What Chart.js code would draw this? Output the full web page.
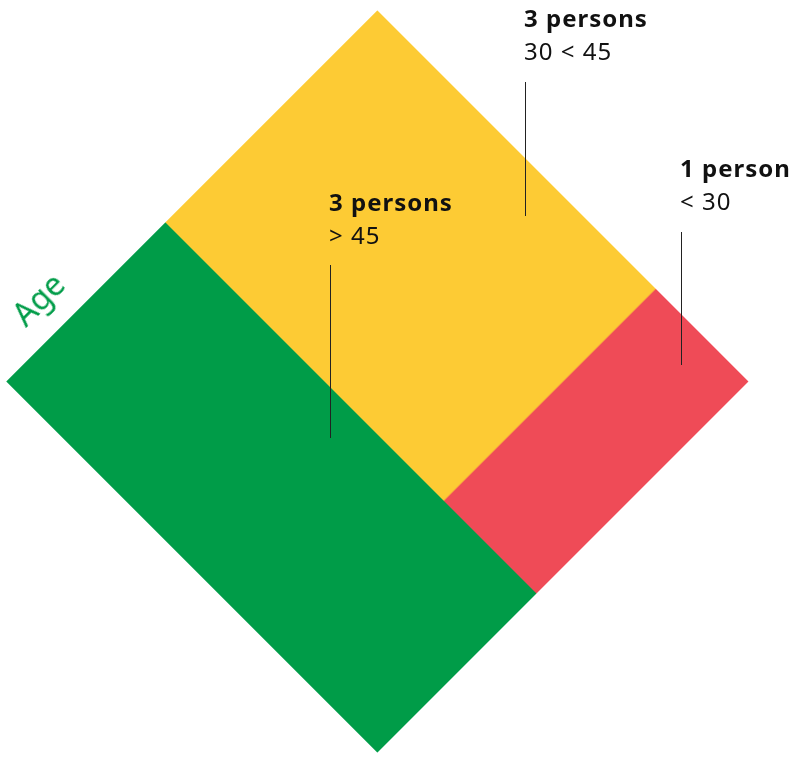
<!DOCTYPE html>
<html lang="en">
<head>
    <meta charset="UTF-8">
    <title>Persons by age</title>
    <script src="https://cdn.jsdelivr.net/npm/chart.js"></script>
    <style>
        body {
            margin: 0;
            padding: 0;
            background: #fff;
            font-family: "Noto Sans", "Open Sans", sans-serif;
        }

        #stage {
            position: relative;
            width: 797px;
            height: 757px;
            overflow: hidden;
        }

        /* 525 = 7 * 75 so the strip border lands on a whole pixel */
        #square {
            position: absolute;
            left: 115px;
            top: 119px;
            width: 525px;
            height: 525px;
            transform: rotate(-45deg);
            transform-origin: center center;
        }

        .label {
            position: absolute;
            color: #111;
            font-size: 24px;
            line-height: 33px;
            letter-spacing: 1px;
            white-space: nowrap;
        }

        .label b {
            display: block;
            font-weight: 700;
        }

        .leader {
            position: absolute;
            width: 1px;
            background: #222;
        }

        #axisLabel {
            position: absolute;
            left: 9px;
            top: 277px;
            color: #009c48;
            font-size: 32px;
            line-height: 44px;
            transform: rotate(-45deg);
            transform-origin: center center;
        }
    </style>
</head>
<body>
    <div id="stage">
        <div id="square"><canvas id="chart" width="525" height="525"></canvas></div>

        <div id="axisLabel">Age</div>

        <div class="label" style="left:524px; top:1px;"><b>3 persons</b>30 &lt; 45</div>
        <div class="leader" style="left:525px; top:82px; height:134px;"></div>

        <div class="label" style="left:680px; top:151px;"><b>1 person</b>&lt; 30</div>
        <div class="leader" style="left:681px; top:232px; height:133px;"></div>

        <div class="label" style="left:329px; top:185px;"><b>3 persons</b>&gt; 45</div>
        <div class="leader" style="left:330px; top:265px; height:173px;"></div>
    </div>

    <script>
        // age groups and number of persons in each
        const ageGroups = ['> 45', '30 < 45', '< 30'];
        const persons = [3, 3, 1];
        const groupColors = ['#009c48', '#fdcb34', '#ef4b57'];

        const total = persons.reduce((a, b) => a + b, 0);
        const splitX = persons[0];                       // first group takes a full-height strip
        const restTotal = persons[1] + persons[2];
        const redTop = persons[2] / restTotal;          // youngest group sits at the bottom of the rest

        function rect(x0, x1, yTop) {
            return [{ x: x0, y: yTop }, { x: x1, y: yTop }];
        }

        const baseSet = {
            fill: 'origin',
            borderWidth: 0,
            borderColor: 'rgba(0,0,0,0)',
            pointRadius: 0,
            tension: 0
        };

        // dataset 0 is drawn last (on top)
        new Chart(document.getElementById('chart'), {
            type: 'line',
            data: {
                datasets: [
                    Object.assign({}, baseSet, {
                        label: ageGroups[2],
                        data: rect(splitX, total, redTop),
                        backgroundColor: groupColors[2]
                    }),
                    Object.assign({}, baseSet, {
                        label: ageGroups[1],
                        data: rect(splitX, total, 1),
                        backgroundColor: groupColors[1]
                    }),
                    Object.assign({}, baseSet, {
                        label: ageGroups[0],
                        data: rect(0, splitX, 1),
                        backgroundColor: groupColors[0]
                    })
                ]
            },
            options: {
                responsive: false,
                animation: false,
                devicePixelRatio: 1,
                layout: { padding: 0 },
                plugins: {
                    legend: { display: false },
                    tooltip: { enabled: false }
                },
                scales: {
                    x: { type: 'linear', min: 0, max: total, display: false },
                    y: { type: 'linear', min: 0, max: 1, display: false }
                }
            }
        });
    </script>
</body>
</html>
